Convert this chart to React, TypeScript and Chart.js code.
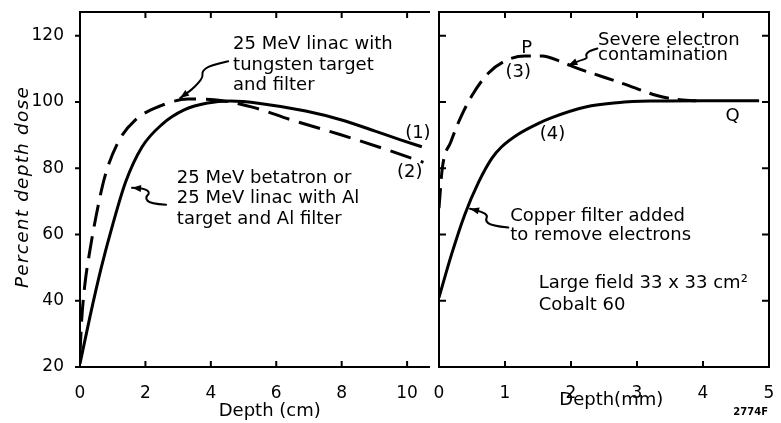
import React, { useEffect, useRef } from "react";
import { Chart, registerables } from "chart.js";

Chart.register(...registerables);

// ---------------- Data ----------------
// Left panel: 25 MeV x-ray beams, depth in cm, percent depth dose
const betatronDepth = [0, 0.3, 0.65, 1.0, 1.4, 1.9, 2.5, 3.2, 3.9, 4.6, 5.5, 6.9, 8.0, 9.0, 9.8, 10.45];
const betatronDose = [21, 35, 50, 63, 76, 86.5, 93.2, 97.7, 99.7, 100.3, 99.6, 97.3, 94.6, 91.3, 88.6, 86.5];

const tungstenDepth = [0, 0.05, 0.15, 0.3, 0.5, 0.76, 1.17, 1.68, 2.5, 3.3, 4.1, 5.3, 6.4, 7.95, 9.48, 10.5];
const tungstenDose = [24, 34, 45, 55, 66, 77.5, 88, 94.5, 99, 100.9, 100.7, 98.4, 94.8, 90.2, 85.3, 81.8];

// Right panel: Cobalt 60 large field, depth in mm
const contaminatedDepth = [0, 0.05, 0.18, 0.32, 0.5, 0.75, 1.0, 1.3, 1.56, 1.86, 2.06, 2.8, 3.3, 3.6, 3.9];
const contaminatedDose = [68, 80, 88, 95, 102, 108.8, 112.4, 113.9, 113.9, 112.1, 110.5, 105.5, 102, 100.8, 100.4];

const copperDepth = [0, 0.19, 0.39, 0.6, 0.8, 0.95, 1.2, 1.5, 1.71, 2.22, 2.7, 3.2, 4.0, 4.85];
const copperDose = [41, 54, 66, 75.8, 83, 86.5, 90.3, 93.5, 95.3, 98.5, 99.8, 100.3, 100.4, 100.4];

// Axis ticks
const doseTicks = [20, 40, 60, 80, 100, 120];
const cmTicks = [0, 2, 4, 6, 8, 10];
const mmTicks = [0, 1, 2, 3, 4, 5];

// ---------------- Annotations (data coordinates) ----------------
const FONT = "'DejaVu Sans', sans-serif";

type Note = { lines: string[]; x: number; y: number; size: number; gap: number; align?: CanvasTextAlign; weight?: string };

const leftNotes: Note[] = [
  { lines: ["25 MeV linac with", "tungsten target", "and filter"], x: 4.68, y: 115.9, size: 18, gap: 20.5 },
  { lines: ["25 MeV betatron or", "25 MeV linac with Al", "target and Al filter"], x: 2.96, y: 75.7, size: 18, gap: 20.5 },
  { lines: ["(1)"], x: 9.94, y: 89.2, size: 18, gap: 0 },
  { lines: ["(2)"], x: 9.69, y: 77.4, size: 18, gap: 0 },
];

const rightNotes: Note[] = [
  { lines: ["Severe electron", "contamination"], x: 2.41, y: 117.1, size: 18, gap: 14.5 },
  { lines: ["P"], x: 1.33, y: 114.8, size: 18, gap: 0, align: "center" },
  { lines: ["(3)"], x: 1.2, y: 107.5, size: 18, gap: 0, align: "center" },
  { lines: ["Q"], x: 4.45, y: 94.3, size: 18, gap: 0, align: "center" },
  { lines: ["(4)"], x: 1.72, y: 88.9, size: 18, gap: 0, align: "center" },
  { lines: ["Copper filter added", "to remove electrons"], x: 1.08, y: 64.2, size: 18, gap: 19.3 },
  { lines: ["Large field 33 x 33 cm²", "Cobalt 60"], x: 1.51, y: 44.0, size: 18, gap: 22.7 },
  { lines: ["2774F"], x: 4.46, y: 5.6, size: 10, gap: 0, weight: "bold" },
];

const leftArrows: number[][][] = [
  [[4.53, 112.3], [3.98, 111.1], [3.73, 109.3], [3.76, 107.6], [3.61, 105.7], [3.43, 103.9], [3.06, 101.2]],
  [[2.63, 69.0], [2.14, 69.3], [1.99, 71.1], [2.14, 72.6], [1.99, 73.8], [1.59, 74.1]],
];

const rightArrows: number[][][] = [
  [[2.4, 116.2], [2.29, 115.6], [2.22, 114.4], [2.25, 113.2], [2.14, 112.6], [1.96, 111.1]],
  [[1.05, 62.1], [0.79, 62.7], [0.7, 64.2], [0.74, 65.7], [0.65, 66.9], [0.47, 67.8]],
];

// ---------------- Helpers ----------------
const pts = (xs: number[], ys: number[]) => xs.map((x, i) => ({ x, y: ys[i] }));

function drawNotes(chart: any, notes: Note[]) {
  const { ctx, scales } = chart;
  ctx.save();
  ctx.fillStyle = "#000";
  ctx.textBaseline = "alphabetic";
  for (const n of notes) {
    ctx.font = `${n.weight || "normal"} ${n.size}px ${FONT}`;
    ctx.textAlign = n.align || "left";
    const px = scales.x.getPixelForValue(n.x);
    const py = scales.y.getPixelForValue(n.y);
    n.lines.forEach((t, i) => ctx.fillText(t, px, py + i * n.gap));
  }
  ctx.restore();
}

function drawArrows(chart: any, arrows: number[][][]) {
  const { ctx, scales } = chart;
  ctx.save();
  ctx.strokeStyle = "#000";
  ctx.fillStyle = "#000";
  ctx.lineWidth = 2;
  ctx.lineCap = "round";
  ctx.lineJoin = "round";
  for (const a of arrows) {
    const p = a.map(([x, y]) => [scales.x.getPixelForValue(x), scales.y.getPixelForValue(y)]);
    ctx.beginPath();
    ctx.moveTo(p[0][0], p[0][1]);
    for (let i = 1; i < p.length - 1; i++) {
      const mx = (p[i][0] + p[i + 1][0]) / 2;
      const my = (p[i][1] + p[i + 1][1]) / 2;
      ctx.quadraticCurveTo(p[i][0], p[i][1], mx, my);
    }
    const end = p[p.length - 1];
    const prev = p[p.length - 2];
    ctx.lineTo(end[0], end[1]);
    ctx.stroke();
    const ang = Math.atan2(end[1] - prev[1], end[0] - prev[0]);
    const L = 9;
    const W = 3.5;
    ctx.beginPath();
    ctx.moveTo(end[0], end[1]);
    ctx.lineTo(end[0] - L * Math.cos(ang) - W * Math.sin(ang), end[1] - L * Math.sin(ang) + W * Math.cos(ang));
    ctx.lineTo(end[0] - L * Math.cos(ang) + W * Math.sin(ang), end[1] - L * Math.sin(ang) - W * Math.cos(ang));
    ctx.closePath();
    ctx.fill();
  }
  ctx.restore();
}

const leftDeco = {
  id: "leftDeco",
  afterDraw(chart: any) {
    const { ctx, chartArea: a, scales } = chart;
    ctx.save();
    ctx.strokeStyle = "#000";
    ctx.lineWidth = 2;
    ctx.beginPath();
    ctx.moveTo(a.right, a.top);
    ctx.lineTo(a.left, a.top);
    ctx.lineTo(a.left, a.bottom);
    ctx.lineTo(a.right, a.bottom);
    ctx.stroke();
    ctx.beginPath();
    for (const v of doseTicks) {
      const py = scales.y.getPixelForValue(v);
      ctx.moveTo(a.left - 5, py);
      ctx.lineTo(a.left, py);
    }
    for (const v of cmTicks) {
      if (v === 0) continue;
      const px = scales.x.getPixelForValue(v);
      ctx.moveTo(px, a.top);
      ctx.lineTo(px, a.top + 6);
      ctx.moveTo(px, a.bottom);
      ctx.lineTo(px, a.bottom - 6);
    }
    ctx.stroke();
    // axis titles
    ctx.fillStyle = "#000";
    ctx.font = `normal 18px ${FONT}`;
    ctx.textAlign = "center";
    ctx.textBaseline = "alphabetic";
    ctx.fillText("Depth (cm)", scales.x.getPixelForValue(5.8), a.bottom + 49);
    ctx.save();
    ctx.translate(a.left - 57, (a.top + a.bottom) / 2 - 2.5);
    ctx.rotate(-Math.PI / 2);
    ctx.font = `italic 18.5px ${FONT}`;
    try {
      (ctx as any).letterSpacing = "1.2px";
    } catch (e) {
      /* ignore */
    }
    ctx.textBaseline = "middle";
    ctx.fillText("Percent depth dose", 0, 0);
    ctx.restore();
    ctx.restore();
    drawArrows(chart, leftArrows);
    drawNotes(chart, leftNotes);
  },
};

const rightDeco = {
  id: "rightDeco",
  afterDraw(chart: any) {
    const { ctx, chartArea: a, scales } = chart;
    ctx.save();
    ctx.strokeStyle = "#000";
    ctx.lineWidth = 2;
    ctx.strokeRect(a.left, a.top, a.right - a.left, a.bottom - a.top);
    ctx.beginPath();
    for (const v of doseTicks) {
      if (v === 20) continue;
      const py = scales.y.getPixelForValue(v);
      ctx.moveTo(a.left, py);
      ctx.lineTo(a.left + 7, py);
      ctx.moveTo(a.right, py);
      ctx.lineTo(a.right - 7, py);
    }
    for (const v of mmTicks) {
      if (v === 0 || v === 5) continue;
      const px = scales.x.getPixelForValue(v);
      ctx.moveTo(px, a.top);
      ctx.lineTo(px, a.top + 6);
      ctx.moveTo(px, a.bottom);
      ctx.lineTo(px, a.bottom - 6);
    }
    ctx.stroke();
    ctx.fillStyle = "#000";
    ctx.font = `normal 18px ${FONT}`;
    ctx.textAlign = "center";
    ctx.textBaseline = "alphabetic";
    ctx.fillText("Depth(mm)", scales.x.getPixelForValue(2.61), a.bottom + 38);
    ctx.restore();
    drawArrows(chart, rightArrows);
    drawNotes(chart, rightNotes);
  },
};

function lineSet(xs: number[], ys: number[], dash: number[]) {
  return {
    data: pts(xs, ys),
    showLine: true,
    borderColor: "#000",
    backgroundColor: "#000",
    borderWidth: 3,
    borderDash: dash,
    borderCapStyle: "butt",
    pointRadius: 0,
    fill: false,
    cubicInterpolationMode: "monotone",
  };
}

const zeroPad = (s: any) => {
  s.paddingLeft = 0;
  s.paddingRight = 0;
  s.paddingTop = 0;
  s.paddingBottom = 0;
};

function buildConfig(opts: {
  datasets: any[];
  xMax: number;
  xTicks: number[];
  yWidth: number;
  showY: boolean;
  padRight: number;
  plugin: any;
}): any {
  const tickFont = { family: FONT, size: 17 };
  return {
    type: "scatter",
    data: { datasets: opts.datasets },
    plugins: [opts.plugin],
    options: {
      responsive: false,
      animation: false,
      events: [],
      layout: { padding: { left: 0, right: opts.padRight, top: 12, bottom: 0 }, autoPadding: false },
      plugins: { legend: { display: false }, tooltip: { enabled: false }, title: { display: false } },
      scales: {
        x: {
          type: "linear",
          min: 0,
          max: opts.xMax,
          grid: { display: false },
          border: { display: false },
          ticks: { color: "#000", font: tickFont, padding: 8, maxRotation: 0, autoSkip: false },
          afterBuildTicks: (s: any) => {
            s.ticks = opts.xTicks.map((v) => ({ value: v }));
          },
          afterFit: (s: any) => {
            s.height = 56;
            zeroPad(s);
          },
        },
        y: {
          type: "linear",
          min: 20,
          max: 127.2,
          grid: { display: false },
          border: { display: false },
          ticks: { display: opts.showY, color: "#000", font: tickFont, padding: 8 },
          afterBuildTicks: (s: any) => {
            s.ticks = doseTicks.map((v) => ({ value: v }));
          },
          afterFit: (s: any) => {
            s.width = opts.yWidth;
            zeroPad(s);
          },
        },
      },
    },
  };
}

export default function App() {
  const leftRef = useRef<HTMLCanvasElement>(null);
  const rightRef = useRef<HTMLCanvasElement>(null);

  useEffect(() => {
    const left = new Chart(
      leftRef.current as HTMLCanvasElement,
      buildConfig({
        datasets: [
          lineSet(betatronDepth, betatronDose, []),
          lineSet(tungstenDepth, tungstenDose, [22, 10]),
        ],
        xMax: 10.7,
        xTicks: cmTicks,
        yWidth: 80,
        showY: true,
        padRight: 2,
        plugin: leftDeco,
      })
    );
    const right = new Chart(
      rightRef.current as HTMLCanvasElement,
      buildConfig({
        datasets: [
          lineSet(copperDepth, copperDose, []),
          lineSet(contaminatedDepth, contaminatedDose, [20, 9]),
        ],
        xMax: 5,
        xTicks: mmTicks,
        yWidth: 7,
        showY: false,
        padRight: 12,
        plugin: rightDeco,
      })
    );
    return () => {
      left.destroy();
      right.destroy();
    };
  }, []);

  return (
    <div style={{ position: "absolute", left: 0, top: 0, width: 781, height: 423, background: "#fff" }}>
      <canvas
        ref={leftRef}
        width={432}
        height={423}
        style={{ position: "absolute", left: 0, top: 0, width: 432, height: 423 }}
      />
      <canvas
        ref={rightRef}
        width={349}
        height={423}
        style={{ position: "absolute", left: 432, top: 0, width: 349, height: 423 }}
      />
    </div>
  );
}
